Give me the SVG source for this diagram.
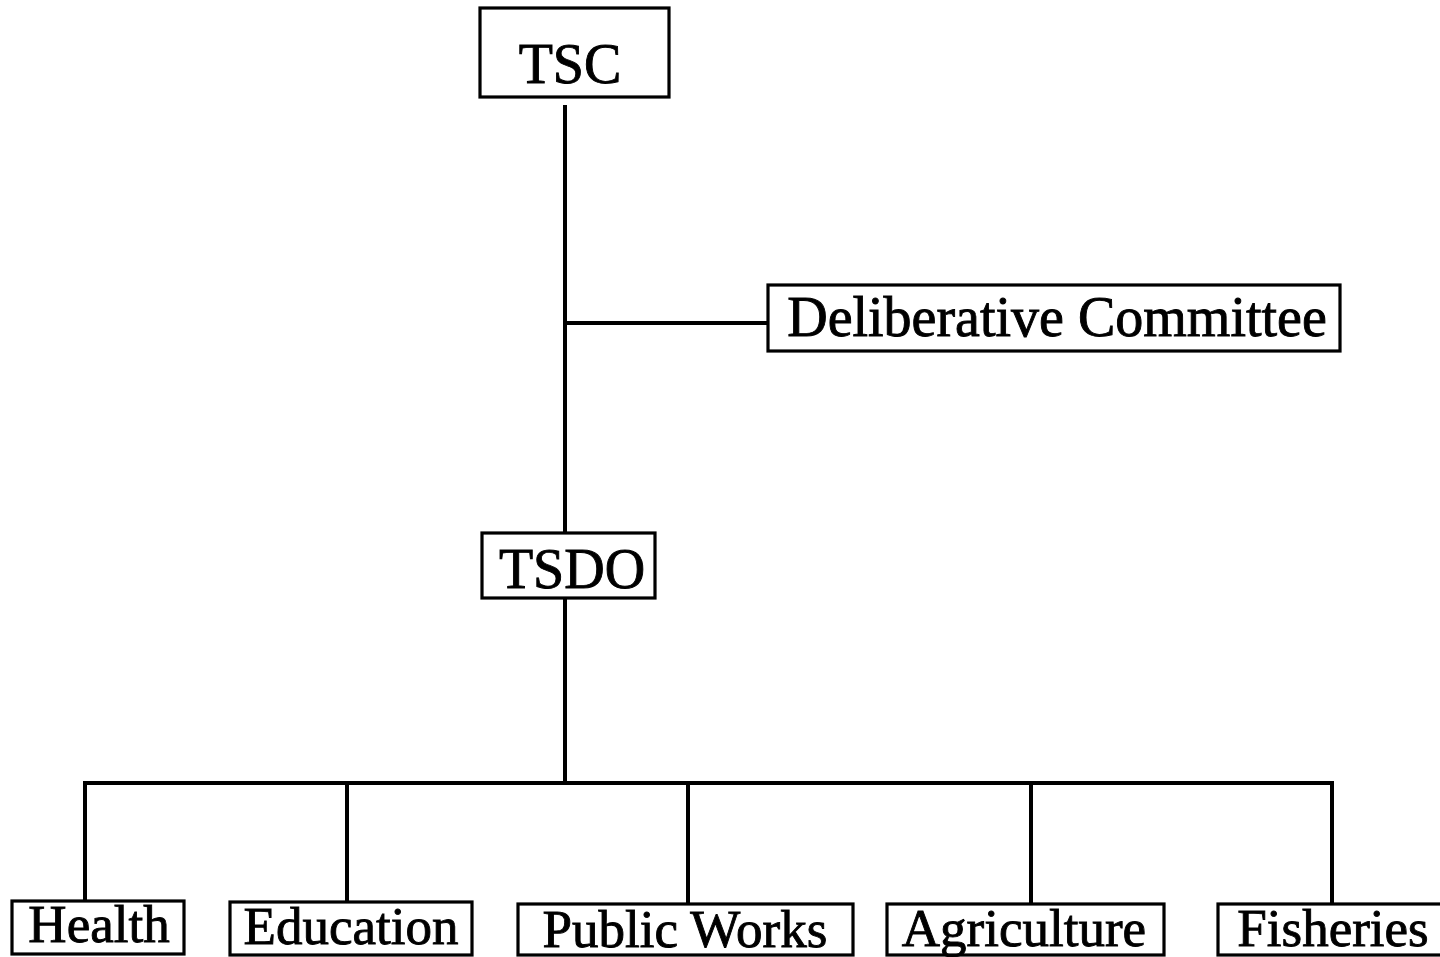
<svg xmlns="http://www.w3.org/2000/svg" width="1440" height="957" viewBox="0 0 1440 957">
<style>
.box{fill:#fff;stroke:#000;stroke-width:3.2}
.lbl{font-family:"Liberation Serif","Times New Roman",serif;fill:#000;stroke:#000;stroke-width:0.9;text-anchor:middle}
.big{font-size:56px}
.sm{font-size:53px}
.con{fill:none;stroke:#000;stroke-width:4;stroke-linejoin:miter}
</style>
<rect width="1440" height="957" fill="#fff"/>
<g id="connectors">
<line class="con" x1="565" y1="105" x2="565" y2="533"/>
<line class="con" x1="565" y1="323" x2="768" y2="323"/>
<line class="con" x1="565" y1="598" x2="565" y2="783"/>
<polyline class="con" points="85,901 85,783 1332,783 1332,904"/>
<line class="con" x1="347" y1="783" x2="347" y2="902"/>
<line class="con" x1="688" y1="783" x2="688" y2="904"/>
<line class="con" x1="1031" y1="783" x2="1031" y2="904"/>
</g>
<g id="tsc">
<rect class="box" x="480" y="8" width="189" height="89"/>
<text class="lbl big" x="570" y="83">TSC</text>
</g>
<g id="deliberative">
<rect class="box" x="768" y="285" width="572" height="66"/>
<text class="lbl big" x="1057" y="336">Deliberative Committee</text>
</g>
<g id="tsdo">
<rect class="box" x="482" y="533" width="173" height="65"/>
<text class="lbl big" x="572" y="588">TSDO</text>
</g>
<g id="health">
<rect class="box" x="12" y="901" width="172" height="53"/>
<text class="lbl sm" x="99" y="942">Health</text>
</g>
<g id="education">
<rect class="box" x="230" y="902" width="242" height="53"/>
<text class="lbl sm" x="351" y="944">Education</text>
</g>
<g id="publicworks">
<rect class="box" x="518" y="904" width="335" height="51"/>
<text class="lbl sm" x="685" y="947">Public Works</text>
</g>
<g id="agriculture">
<rect class="box" x="887" y="904" width="277" height="51"/>
<text class="lbl sm" x="1024" y="946">Agriculture</text>
</g>
<g id="fisheries">
<rect class="box" x="1218" y="904" width="225" height="51"/>
<text class="lbl sm" x="1333" y="946">Fisheries</text>
</g>
</svg>
